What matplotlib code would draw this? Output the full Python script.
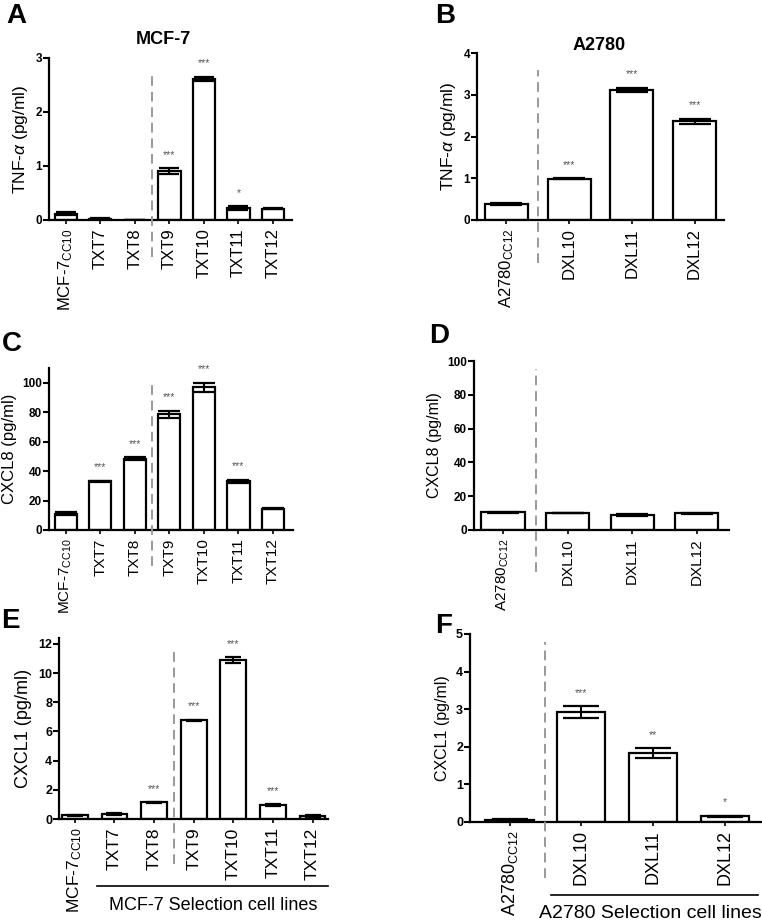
import matplotlib
matplotlib.use('Agg')
import matplotlib.pyplot as plt
from matplotlib.transforms import blended_transform_factory
import numpy as np

plt.rcParams['font.family'] = ['Liberation Sans', 'DejaVu Sans']
plt.rcParams['mathtext.fontset'] = 'custom'
plt.rcParams['mathtext.rm'] = 'Liberation Sans'
plt.rcParams['mathtext.it'] = 'Liberation Sans:italic'

# ---------------- data ----------------
mcf_labels = ['MCF-7$_{\\mathregular{CC10}}$', 'TXT7', 'TXT8', 'TXT9', 'TXT10', 'TXT11', 'TXT12']
a2780_labels = ['A2780$_{\\mathregular{CC12}}$', 'DXL10', 'DXL11', 'DXL12']

tnf_mcf = [0.12, 0.02, 0.005, 0.91, 2.61, 0.22, 0.21]
tnf_mcf_err = [0.02, 0.01, 0.003, 0.05, 0.04, 0.04, 0.005]
tnf_mcf_sig = ['', '', '', '***', '***', '*', '']

tnf_a27 = [0.38, 0.99, 3.12, 2.36]
tnf_a27_err = [0.03, 0.01, 0.05, 0.07]
tnf_a27_sig = ['', '***', '***', '***']

cxcl8_mcf = [11, 33, 48.5, 78.5, 97, 33, 14.5]
cxcl8_mcf_err = [1.0, 0.5, 1.0, 2.5, 3.0, 1.2, 0.3]
cxcl8_mcf_sig = ['', '***', '***', '***', '***', '***', '']

cxcl8_a27 = [10.5, 10.0, 9.0, 9.8]
cxcl8_a27_err = [0.3, 0.2, 0.5, 0.2]
cxcl8_a27_sig = ['', '', '', '']

cxcl1_mcf = [0.25, 0.35, 1.15, 6.75, 10.9, 0.95, 0.22]
cxcl1_mcf_err = [0.03, 0.05, 0.02, 0.05, 0.2, 0.08, 0.05]
cxcl1_mcf_sig = ['', '', '***', '***', '***', '***', '']

cxcl1_a27 = [0.05, 2.92, 1.83, 0.15]
cxcl1_a27_err = [0.02, 0.16, 0.14, 0.02]
cxcl1_a27_sig = ['', '***', '**', '*']

W, H = 762, 923
fig = plt.figure(figsize=(W / 100, H / 100), dpi=100)


def px_axes(l, t, r, b):
    return fig.add_axes([l / W, 1 - b / H, (r - l) / W, (b - t) / H])


def panel(rect, labels, vals, errs, sig, ylim, yticks, ylabel, ylsize, xtsize,
          xlim, width, sep, dash_top, dash_bot, cap, ytsize=8.5):
    ax = px_axes(*rect)
    x = np.arange(len(vals))
    ax.bar(x, vals, width=width, color='white', edgecolor='black', linewidth=1.6, zorder=2)
    ax.errorbar(x, vals, yerr=errs, fmt='none', ecolor='black', elinewidth=1.5,
                capsize=cap, capthick=1.6, zorder=3)
    for xi, v, e, s in zip(x, vals, errs, sig):
        if s:
            ax.annotate(s, (xi, v + e), xytext=(0, 6), textcoords='offset points',
                        ha='center', va='bottom', fontsize=7.5, color='#555555')
    ax.set_xlim(*xlim)
    ax.set_ylim(*ylim)
    ax.set_yticks(yticks)
    ax.set_yticklabels([str(t) for t in yticks], fontweight='bold', fontsize=ytsize)
    ax.set_xticks(x)
    ax.set_xticklabels(labels, rotation=90, fontsize=xtsize)
    ax.set_ylabel(ylabel, fontsize=ylsize)
    for s in ['top', 'right']:
        ax.spines[s].set_visible(False)
    for s in ['left', 'bottom']:
        ax.spines[s].set_linewidth(1.6)
    ax.tick_params(axis='y', direction='out', length=4, width=1.5, pad=1)
    ax.tick_params(axis='x', direction='out', length=3, width=1.2, pad=3)
    tr = blended_transform_factory(ax.transData, ax.transAxes)
    ax.plot([sep, sep], [dash_bot, dash_top], transform=tr, color='#999999',
            lw=1.4, ls=(0, (5, 3)), clip_on=False, zorder=5)
    return ax


# A
panel((49, 58, 292, 220), mcf_labels, tnf_mcf, tnf_mcf_err, tnf_mcf_sig,
      (0, 3), [0, 1, 2, 3], 'TNF-$\\alpha$ (pg/ml)', 12.5, 12,
      (-0.49, 6.55), 0.64, 2.5, 0.92, -0.23, 7.5)
# B
panel((477, 53, 724, 220), a2780_labels, tnf_a27, tnf_a27_err, tnf_a27_sig,
      (0, 4), [0, 1, 2, 3, 4], 'TNF-$\\alpha$ (pg/ml)', 12.5, 12,
      (-0.47, 3.47), 0.69, 0.5, 0.90, -0.26, 11.5)
# C
panel((49, 368, 293, 530), mcf_labels, cxcl8_mcf, cxcl8_mcf_err, cxcl8_mcf_sig,
      (0, 110), [0, 20, 40, 60, 80, 100], 'CXCL8 (pg/ml)', 12, 11,
      (-0.49, 6.58), 0.64, 2.5, 0.91, -0.22, 8)
# D
panel((474, 361, 729, 530), a2780_labels, cxcl8_a27, cxcl8_a27_err, cxcl8_a27_sig,
      (0, 100), [0, 20, 40, 60, 80, 100], 'CXCL8 (pg/ml)', 11.5, 11,
      (-0.45, 3.5), 0.67, 0.51, 0.95, -0.25, 11.5)
# E
panel((59, 638, 328, 819), mcf_labels, cxcl1_mcf, cxcl1_mcf_err, cxcl1_mcf_sig,
      (0, 12.4), [0, 2, 4, 6, 8, 10, 12], 'CXCL1 (pg/ml)', 13, 12.5,
      (-0.4, 6.39), 0.65, 2.5, 0.93, -0.25, 6, ytsize=9)
# F
panel((470, 634, 761, 822), a2780_labels, cxcl1_a27, cxcl1_a27_err, cxcl1_a27_sig,
      (0, 5), [0, 1, 2, 3, 4, 5], 'CXCL1 (pg/ml)', 11.5, 13,
      (-0.55, 3.5), 0.67, 0.5, 0.96, -0.30, 13, ytsize=9)

# titles
fig.text(163 / W, 1 - 40 / H, 'MCF-7', ha='center', va='center', fontsize=13, fontweight='bold')
fig.text(599 / W, 1 - 45 / H, 'A2780', ha='center', va='center', fontsize=13, fontweight='bold')

# panel letters
for lab, (lx, ly) in zip('ABCDEF', [(6, 3), (435, 3), (2, 331), (429, 323), (1, 608), (435, 613)]):
    fig.text(lx / W, 1 - ly / H, lab, ha='left', va='top', fontsize=20, fontweight='bold')

# selection brackets
fig.add_artist(plt.Line2D([97 / W, 328 / W], [1 - 886 / H, 1 - 886 / H], color='black', lw=1.2))
fig.text(213 / W, 1 - 905 / H, 'MCF-7 Selection cell lines', ha='center', va='center', fontsize=13)
fig.add_artist(plt.Line2D([551 / W, 758 / W], [1 - 895 / H, 1 - 895 / H], color='black', lw=1.2))
fig.text(650 / W, 1 - 913 / H, 'A2780 Selection cell lines', ha='center', va='center', fontsize=14)

fig.savefig('out.png', dpi=100)
